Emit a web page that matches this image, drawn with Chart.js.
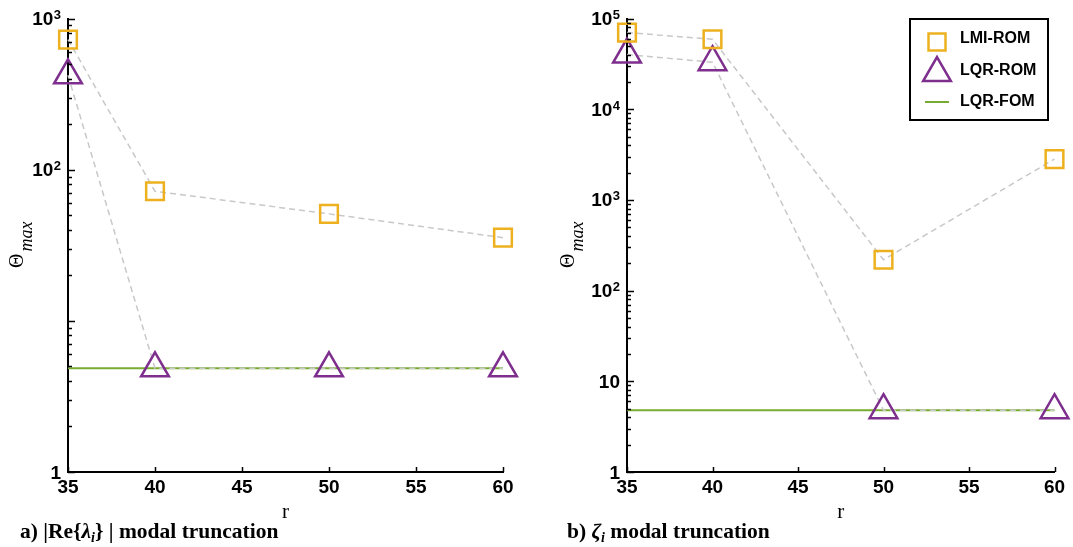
<!DOCTYPE html>
<html><head><meta charset="utf-8">
<script src="https://cdn.jsdelivr.net/npm/chart.js@4/dist/chart.umd.min.js"></script>
<style>
html,body{margin:0;padding:0;background:#fff;}
body{width:1073px;height:547px;position:relative;overflow:hidden;}
#wa{position:absolute;left:0;top:0;width:540px;height:547px;}
#wb{position:absolute;left:540px;top:0;width:533px;height:547px;}
.cap{position:absolute;font-family:"Liberation Serif","Times New Roman",serif;font-weight:bold;font-size:21.5px;top:519px;white-space:nowrap;color:#000;line-height:24px;}
.cap sub{font-size:14px;vertical-align:-4px;line-height:0;}
</style></head><body>
<div id="wa"><canvas id="ca" width="540" height="547"></canvas></div>
<div id="wb"><canvas id="cb" width="533" height="547"></canvas></div>
<div class="cap" style="left:20px">a) |Re{<i>λ</i><sub><i>i</i></sub>} | modal truncation</div>
<div class="cap" style="left:567px">b) <i>ζ</i><sub><i>i</i></sub> modal truncation</div>
<script>
// ---- data ----
const rValues = [35, 40, 50, 60];
const fomR = [35, 60];
const xTicks = [35, 40, 45, 50, 55, 60];
// panel a
const lmiA = [725, 72, 51, 35.5];
const lqrA = [421, 4.85, 4.85, 4.85];
const fomA = [4.85, 4.85];
const yLabelsA = [1, 100, 1000];
// panel b
const lmiB = [70000, 59000, 219, 2820];
const lqrB = [40000, 33000, 4.8, 4.8];
const fomB = [4.8, 4.8];
const yLabelsB = [1, 10, 100, 1000, 10000, 100000];
const seriesNames = ['LMI-ROM', 'LQR-ROM', 'LQR-FOM'];

const C_LMI = '#EDB120', C_LQR = '#7E2F8E', C_FOM = '#77AC30', C_DASH = '#c8c8c8';
const SANS = '"Liberation Sans", Arial, Helvetica, sans-serif';
const SERIF = '"Liberation Serif", "Times New Roman", serif';

function pts(xs, ys){ return xs.map((x,i)=>({x:x, y:ys[i]})); }

const tickPlugin = {
  id:'inTicks',
  afterDraw(chart){
    const {ctx, chartArea:a, scales:{x, y}} = chart;
    ctx.save(); ctx.strokeStyle = '#000'; ctx.lineWidth = 1.5;
    const lo = Math.floor(Math.log10(y.min)), hi = Math.ceil(Math.log10(y.max));
    for (let e = lo; e <= hi; e++) {
      for (let m = 1; m <= 9; m++) {
        const v = m * Math.pow(10, e);
        if (v < y.min * 0.999 || v > y.max * 1.001) continue;
        const py = Math.round(y.getPixelForValue(v)) + 0.5;
        const len = m === 1 ? 7 : 4;
        ctx.beginPath(); ctx.moveTo(a.left, py); ctx.lineTo(a.left + len, py); ctx.stroke();
      }
    }
    x.ticks.forEach(t => {
      const px = Math.round(x.getPixelForValue(t.value)) + 0.5;
      ctx.beginPath(); ctx.moveTo(px, a.bottom); ctx.lineTo(px, a.bottom - 5); ctx.stroke();
    });
    ctx.restore();
  }
};

// y tick labels with real superscript exponents, placed by the log scale
const yLabelPlugin = {
  id:'yLabels',
  afterDraw(chart){
    const {ctx, chartArea:a, scales:{y}} = chart;
    ctx.save(); ctx.fillStyle = '#000'; ctx.textBaseline = 'alphabetic'; ctx.textAlign = 'right';
    y.ticks.forEach(t => {
      const e = Math.round(Math.log10(t.value));
      const py = y.getPixelForValue(t.value);
      let xr = a.left - 7;
      if (e >= 2) {
        ctx.font = 'bold 13px ' + SANS;
        const s = String(e);
        ctx.fillText(s, xr, py + 0.5);
        xr -= ctx.measureText(s).width + 0.5;
      }
      ctx.font = 'bold 19px ' + SANS;
      ctx.fillText(e === 0 ? '1' : '10', xr, py + 6.5);
    });
    ctx.restore();
  }
};

const yTitlePlugin = {
  id:'yTitle',
  afterDraw(chart, args, o){
    const ctx = chart.ctx;
    ctx.save();
    ctx.translate(o.x, o.y); ctx.rotate(-Math.PI/2);
    ctx.fillStyle = '#000'; ctx.textBaseline = 'alphabetic'; ctx.textAlign = 'left';
    ctx.font = '20px ' + SERIF; ctx.fillText('Θ', 0, 0);
    const w = ctx.measureText('Θ').width;
    ctx.font = 'italic 18px ' + SERIF; ctx.fillText('max', w + 2, 9);
    ctx.restore();
  }
};

const legendPlugin = {
  id:'boxLegend',
  afterDraw(chart, args, o){
    if (!o.show) return;
    const ctx = chart.ctx;
    ctx.save();
    ctx.strokeStyle = '#000'; ctx.lineWidth = 2;
    ctx.strokeRect(o.x, o.y, o.w, o.h);
    const cx = o.x + 27, tx = o.x + 50;
    const rows = [o.y + 20, o.y + 52, o.y + 83];
    ctx.strokeStyle = C_LMI; ctx.lineWidth = 2.5;
    ctx.strokeRect(cx - 8.5, rows[0] + 3 - 8.5, 17, 17);
    const r = 16, cy = rows[1] + 2;
    ctx.strokeStyle = C_LQR; ctx.lineWidth = 2.5;
    ctx.beginPath();
    ctx.moveTo(cx, cy - r);
    ctx.lineTo(cx + r * Math.sin(2*Math.PI/3), cy + r/2);
    ctx.lineTo(cx - r * Math.sin(2*Math.PI/3), cy + r/2);
    ctx.closePath(); ctx.stroke();
    ctx.strokeStyle = C_FOM; ctx.lineWidth = 2;
    ctx.beginPath(); ctx.moveTo(cx - 12, rows[2]); ctx.lineTo(cx + 12, rows[2]); ctx.stroke();
    ctx.fillStyle = '#000'; ctx.font = 'bold 16px ' + SANS; ctx.textBaseline = 'middle'; ctx.textAlign = 'left';
    seriesNames.forEach((n, i) => ctx.fillText(n, tx, rows[i]));
    ctx.restore();
  }
};

function makeChart(id, lmi, lqr, fom, yMax, yLabels, yWidth, padRight, titlePos, legend){
  const tickFont = {family: SANS, size: 19, weight: 'bold'};
  return new Chart(document.getElementById(id), {
    type: 'line',
    data: {
      datasets: [
        {label: seriesNames[0], data: pts(rValues, lmi), borderColor: C_DASH, borderWidth: 1.5, borderDash: [6,4],
         pointStyle: 'rect', pointRadius: 12.5, pointBorderColor: C_LMI, pointBackgroundColor: 'rgba(0,0,0,0)',
         pointBorderWidth: 2.5, clip: false, fill: false, tension: 0},
        {label: seriesNames[1], data: pts(rValues, lqr), borderColor: C_DASH, borderWidth: 1.5, borderDash: [6,4],
         pointStyle: 'triangle', pointRadius: 16, pointBorderColor: C_LQR, pointBackgroundColor: 'rgba(0,0,0,0)',
         pointBorderWidth: 2.5, clip: false, fill: false, tension: 0},
        {label: seriesNames[2], data: pts(fomR, fom), borderColor: C_FOM, borderWidth: 2, pointRadius: 0,
         clip: false, fill: false}
      ]
    },
    options: {
      responsive: false, animation: false, devicePixelRatio: 1,
      layout: {padding: {top: 17, right: padRight, left: 0, bottom: 0}},
      plugins: {legend: {display: false}, tooltip: {enabled: false},
        yTitle: titlePos, boxLegend: legend},
      scales: {
        x: {type: 'linear', min: 35, max: 60,
          afterBuildTicks: s => { s.ticks = xTicks.map(v => ({value: v})); },
          grid: {display: false, drawTicks: false},
          border: {display: true, color: '#000', width: 2},
          ticks: {padding: 4, font: tickFont, color: '#000', maxRotation: 0, autoSkip: false},
          title: {display: true, text: 'r', font: {family: SERIF, size: 21}, color: '#000', padding: {top: 0, bottom: 22}},
          afterFit: s => { s.height = 75; }
        },
        y: {type: 'logarithmic', min: 1, max: yMax,
          afterBuildTicks: s => { s.ticks = yLabels.map(v => ({value: v, major: true})); },
          grid: {display: false, drawTicks: false},
          border: {display: true, color: '#000', width: 2},
          ticks: {display: false},
          afterFit: s => { s.width = yWidth; }
        }
      }
    },
    plugins: [tickPlugin, yLabelPlugin, yTitlePlugin, legendPlugin]
  });
}

makeChart('ca', lmiA, lqrA, fomA, 1000, yLabelsA, 68, 37, {x: 23, y: 268}, {show: false});
makeChart('cb', lmiB, lqrB, fomB, 100000, yLabelsB, 87, 11, {x: 34, y: 268},
  {show: true, x: 370, y: 19, w: 138, h: 101});
</script>
</body></html>
